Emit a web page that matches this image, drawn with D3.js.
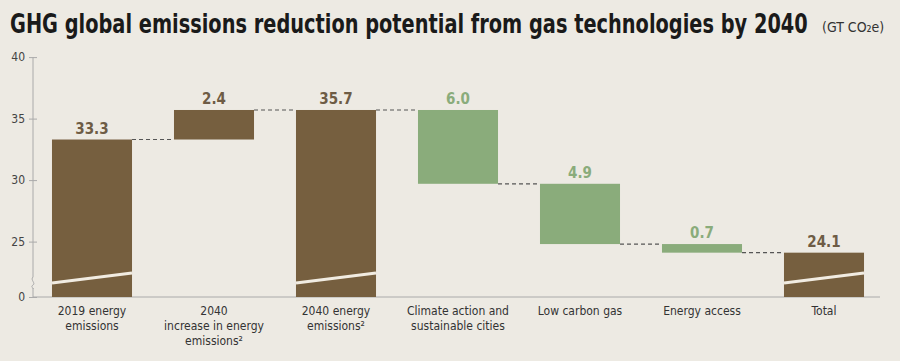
<!DOCTYPE html>
<html>
<head>
<meta charset="utf-8">
<script src="https://cdn.jsdelivr.net/npm/d3@7"></script>
<style>
  body { margin: 0; background: #edeae3; }
  svg { display: block; }
</style>
</head>
<body>
<div id="chart"></div>
<script>
// waterfall data, GT CO2e
const categories = [
  ["2019 energy", "emissions"],
  ["2040", "increase in energy", "emissions²"],
  ["2040 energy", "emissions²"],
  ["Climate action and", "sustainable cities"],
  ["Low carbon gas"],
  ["Energy access"],
  ["Total"]
];
const values = [33.3, 2.4, 35.7, -6.0, -4.9, -0.7, 24.1];
const kinds = ["total", "step", "total", "step", "step", "step", "total"];
const yTicks = [0, 25, 30, 35, 40];

const width = 900, height = 361;
const brown = "#765f3f", green = "#8aac7b";

const svg = d3.select("#chart").append("svg")
  .attr("width", width)
  .attr("height", height);

svg.append("rect").attr("width", width).attr("height", height).attr("fill", "#edeae3");

// title, squeezed horizontally to fit like the condensed original
const title = svg.append("text")
  .attr("font-family", "DejaVu Sans Condensed, DejaVu Sans")
  .attr("font-weight", "bold")
  .attr("font-size", 26)
  .attr("fill", "#1a1a1a")
  .text("GHG global emissions reduction potential from gas technologies by 2040");
const tw = title.node().getComputedTextLength();
title.attr("transform", `translate(10,33) scale(${798 / tw},1)`);

svg.append("text")
  .attr("x", 822).attr("y", 32)
  .attr("font-family", "DejaVu Sans Condensed, DejaVu Sans")
  .attr("font-size", 14)
  .attr("fill", "#333")
  .text("(GT CO₂e)");

// build waterfall
let running = 0;
const bars = values.map((v, i) => {
  let lo, hi, end;
  if (kinds[i] === "total") {
    lo = 0; hi = v; end = v;
  } else {
    const start = running;
    end = running + v;
    lo = Math.min(start, end); hi = Math.max(start, end);
  }
  running = end;
  return { i, v, lo, hi, end, kind: kinds[i], label: Math.abs(v).toFixed(1) };
});

const x = d3.scaleBand()
  .domain(d3.range(categories.length))
  .range([31, 885])
  .paddingInner(0.344)
  .paddingOuter(0.172);

// broken axis: bottom part compressed
const y = d3.scaleLinear()
  .domain([0, 21, 40])
  .range([297, 290.8, 57.1]);

// y axis
const yAxis = svg.append("g")
  .attr("transform", "translate(33,0)")
  .call(d3.axisLeft(y).tickValues(yTicks).tickSize(4).tickSizeOuter(0).tickPadding(4));
yAxis.select(".domain").attr("stroke", "#aaa");
yAxis.selectAll(".tick line").attr("stroke", "#aaa").attr("x2", 4).attr("x1", -4);
yAxis.selectAll(".tick text")
  .attr("font-family", "DejaVu Sans Condensed, DejaVu Sans")
  .attr("font-size", 12)
  .attr("fill", "#444");
yAxis.select(".domain").attr("d", `M0,${y(40)}V${y(0)}`);

// axis break
svg.append("rect").attr("x", 29).attr("y", 277).attr("width", 8).attr("height", 11).attr("fill", "#edeae3");
svg.append("path")
  .attr("d", "M33,277 C30,280 36,283 33,285 C30,287 34,288 33,289")
  .attr("fill", "none").attr("stroke", "#aaa").attr("stroke-width", 1);

// baseline
svg.append("line")
  .attr("x1", 33).attr("x2", 880)
  .attr("y1", y(0)).attr("y2", y(0))
  .attr("stroke", "#aaa");

// connectors
svg.append("g").selectAll("line")
  .data(bars.slice(0, -1))
  .join("line")
  .attr("x1", d => x(d.i) + x.bandwidth())
  .attr("x2", d => x(d.i + 1))
  .attr("y1", d => y(d.end))
  .attr("y2", d => y(d.end))
  .attr("stroke", "#555")
  .attr("stroke-width", 1.2)
  .attr("stroke-dasharray", "4,3");

// bars
svg.append("g").selectAll("rect")
  .data(bars)
  .join("rect")
  .attr("x", d => x(d.i))
  .attr("width", x.bandwidth())
  .attr("y", d => y(d.hi))
  .attr("height", d => y(d.lo) - y(d.hi))
  .attr("fill", d => d.v < 0 ? green : brown);

// break marks across totals
svg.append("g").selectAll("line")
  .data(bars.filter(d => d.kind === "total"))
  .join("line")
  .attr("x1", d => x(d.i))
  .attr("x2", d => x(d.i) + x.bandwidth())
  .attr("y1", 283)
  .attr("y2", 273)
  .attr("stroke", "#f1ece2")
  .attr("stroke-width", 3);

// value labels
svg.append("g").selectAll("text")
  .data(bars)
  .join("text")
  .attr("x", d => x(d.i) + x.bandwidth() / 2)
  .attr("y", d => y(d.hi) - 6)
  .attr("text-anchor", "middle")
  .attr("font-family", "DejaVu Sans Condensed, DejaVu Sans")
  .attr("font-weight", "bold")
  .attr("font-size", 15)
  .attr("fill", d => d.v < 0 ? green : "#6e5c45")
  .text(d => d.label);

// category labels
const cat = svg.append("g").selectAll("text")
  .data(categories)
  .join("text")
  .attr("x", (d, i) => x(i) + x.bandwidth() / 2)
  .attr("y", 315)
  .attr("text-anchor", "middle")
  .attr("font-family", "DejaVu Sans Condensed, DejaVu Sans")
  .attr("font-size", 12)
  .attr("fill", "#333");
cat.selectAll("tspan")
  .data(d => d)
  .join("tspan")
  .attr("x", function() { return this.parentNode.getAttribute("x"); })
  .attr("dy", (d, j) => j === 0 ? 0 : 15)
  .text(d => d);
</script>
</body>
</html>
